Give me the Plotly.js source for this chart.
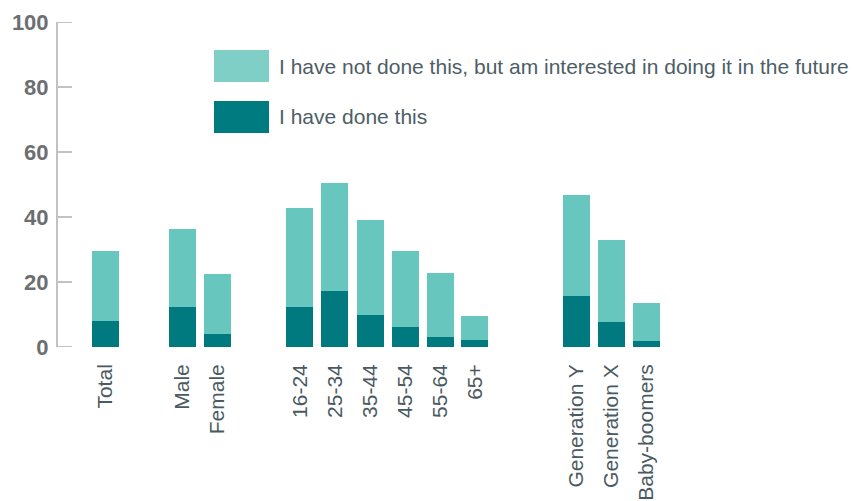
<!DOCTYPE html>
<html>
<head>
<meta charset="utf-8">
<script src="https://cdn.plot.ly/plotly-3.0.1.min.js"></script>
<style>html,body{margin:0;padding:0;background:#fff}#chart{width:852px;height:501px}</style>
</head>
<body>
<div id="chart"></div>
<script>
// ---- data ----
var categories = ["Total", "Male", "Female", "16-24", "25-34", "35-44", "45-54", "55-64", "65+", "Generation Y", "Generation X", "Baby-boomers"];
var seriesNames = ["I have not done this, but am interested in doing it in the future", "I have done this"];
var doneValues = [8, 12.2, 4, 12.2, 17.1, 9.8, 6.1, 3.0, 2.1, 15.6, 7.6, 1.8];
var interestedValues = [21.5, 24.0, 18.4, 30.5, 33.3, 29.2, 23.3, 19.7, 7.3, 31.1, 25.2, 11.6];
var yTickVals = [0, 20, 40, 60, 80, 100];

// ---- layout positions (group gaps) ----
var xPos = [0, 2.2, 3.2, 5.55, 6.55, 7.57, 8.57, 9.57, 10.55, 13.45, 14.45, 15.45];

var colLight = "#67c6bd", colDark = "#007a7e";
var axisCol = "#c2c2c2";
var fontFam = "'Liberation Sans', Arial, sans-serif";

var traces = [
  {type: "bar", x: xPos, y: doneValues, name: seriesNames[1], marker: {color: colDark}, width: 0.77, hoverinfo: "y"},
  {type: "bar", x: xPos, y: interestedValues, name: seriesNames[0], marker: {color: colLight}, width: 0.77, hoverinfo: "y"}
];

var L = 58, R = 840, T = 22, B = 347;
function px(x) { return (x - L) / (R - L); }
function py(y) { return (B - y) / (B - T); }

var shapes = [
  {type: "rect", xref: "paper", yref: "paper", x0: px(214), x1: px(269), y0: py(82), y1: py(50), fillcolor: "#80cfc6", line: {width: 0}},
  {type: "rect", xref: "paper", yref: "paper", x0: px(214), x1: px(269), y0: py(133), y1: py(101), fillcolor: "#007b80", line: {width: 0}}
];
// inward tick marks on the y axis
yTickVals.forEach(function (v) {
  shapes.push({type: "line", xref: "paper", yref: "y", xsizemode: "pixel", xanchor: 0, x0: -1, x1: 14, y0: v, y1: v, line: {color: axisCol, width: 2}});
});

var layout = {
  width: 852, height: 501,
  margin: {l: L, r: 852 - R, t: T, b: 501 - B},
  barmode: "stack",
  showlegend: false,
  paper_bgcolor: "#fff", plot_bgcolor: "#fff",
  font: {family: fontFam, size: 21, color: "#4a5a62"},
  xaxis: {
    range: [-1.357, -1.357 + 782 / 35],
    tickvals: xPos, ticktext: categories, tickangle: -90,
    showgrid: false, zeroline: false, showline: false, ticks: "",
    tickfont: {family: fontFam, size: 21, color: "#4a5a62"},
    ticklabelstandoff: 12, fixedrange: true
  },
  yaxis: {
    range: [0, 100], tickvals: yTickVals,
    showgrid: false, zeroline: false,
    showline: true, linecolor: axisCol, linewidth: 2,
    ticks: "",
    tickfont: {family: fontFam, size: 22, color: "#6d6e71", weight: "bold"},
    ticklabelstandoff: 3, fixedrange: true
  },
  shapes: shapes,
  annotations: [
    {xref: "paper", yref: "paper", x: px(277), y: py(66), xanchor: "left", yanchor: "middle", text: seriesNames[0], showarrow: false, font: {family: fontFam, size: 21, color: "#4d5e66"}},
    {xref: "paper", yref: "paper", x: px(277), y: py(117), xanchor: "left", yanchor: "middle", text: seriesNames[1], showarrow: false, font: {family: fontFam, size: 21, color: "#4d5e66"}}
  ]
};

Plotly.newPlot("chart", traces, layout, {displayModeBar: false, staticPlot: true});
</script>
</body>
</html>
